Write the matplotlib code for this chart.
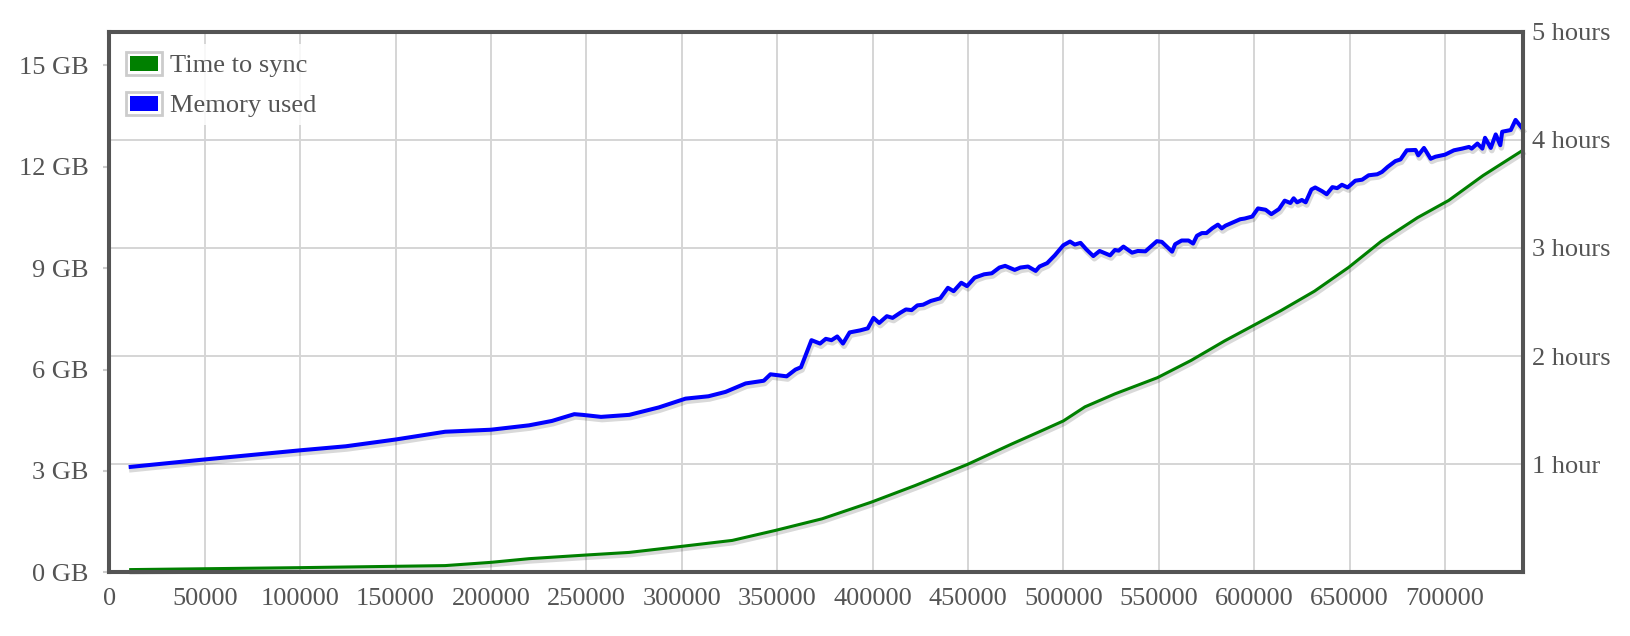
import matplotlib
matplotlib.use("Agg")
import matplotlib.pyplot as plt
from matplotlib import patheffects as pe
from matplotlib.patches import Patch, Rectangle
from matplotlib.legend_handler import HandlerPatch

# memory used (GB) by block height
mem_blocks = [11200, 50000, 100000, 124000, 150000, 176000, 200000, 220000, 232000, 243700,
              248000, 257700, 272500, 288000, 302000, 314000, 323000, 333500, 343000, 346500,
              355000, 359600, 362500, 368000, 372500, 375500, 378500, 381500, 384500, 388000,
              393500, 397500, 400500, 403500, 407500, 410500, 414500, 417500, 420500, 423500,
              426500, 430500, 435500, 439500, 442500, 446500, 449500, 453500, 458500, 462500,
              466500, 469500, 474500, 477500, 481500, 485500, 487500, 491500, 495500, 500000,
              503500, 506000, 509000, 512000, 515700, 519000, 524500, 527000, 529000, 531500,
              536000, 539000, 543000, 549000, 551600, 557000, 558600, 562000, 565600, 568000,
              570000, 572600, 575000, 578000, 581000, 583000, 585000, 589000, 592700, 595000,
              599000, 602000, 606000, 609000, 613000, 616000, 619000, 620700, 622500, 625000,
              627000, 630000, 632000, 635600, 638000, 641000, 643500, 646000, 649000, 653000,
              656600, 660000, 664500, 667000, 670000, 674000, 676700, 680000, 684600, 686000,
              689000, 692500, 695000, 700000, 704700, 709000, 712600, 714000, 717000, 719600,
              721000, 724000, 726600, 729000, 730000, 734500, 737000, 740500]
mem_gb = [3.12, 3.34, 3.61, 3.73, 3.93, 4.16, 4.22, 4.35, 4.48, 4.68,
          4.66, 4.60, 4.66, 4.88, 5.14, 5.21, 5.34, 5.59, 5.67, 5.86,
          5.80, 6.00, 6.07, 6.87, 6.77, 6.91, 6.87, 6.98, 6.77, 7.10,
          7.16, 7.22, 7.53, 7.38, 7.58, 7.53, 7.68, 7.78, 7.76, 7.90,
          7.92, 8.03, 8.11, 8.42, 8.32, 8.57, 8.47, 8.72, 8.82, 8.85,
          9.02, 9.07, 8.95, 9.02, 9.05, 8.92, 9.05, 9.15, 9.38, 9.68,
          9.79, 9.70, 9.75, 9.56, 9.36, 9.51, 9.38, 9.54, 9.52, 9.64,
          9.46, 9.51, 9.50, 9.80, 9.78, 9.49, 9.71, 9.82, 9.82, 9.73,
          9.96, 10.04, 10.04, 10.18, 10.29, 10.18, 10.26, 10.36, 10.45, 10.47,
          10.53, 10.77, 10.73, 10.60, 10.75, 11.00, 10.93, 11.07, 10.95, 11.02,
          10.95, 11.33, 11.39, 11.28, 11.19, 11.40, 11.37, 11.47, 11.39, 11.59,
          11.62, 11.75, 11.78, 11.85, 12.00, 12.17, 12.22, 12.49, 12.50, 12.34,
          12.56, 12.24, 12.30, 12.36, 12.49, 12.54, 12.59, 12.54, 12.69, 12.54,
          12.86, 12.56, 12.96, 12.64, 13.04, 13.09, 13.39, 13.14]

# time to sync (hours) by block height
sync_blocks = [11200, 100000, 176000, 200000, 220000, 250000, 272500, 300000, 326500, 349000,
               373600, 399400, 422400, 449500, 473000, 488700, 500000, 511300, 527000, 549300,
               567000, 584500, 599300, 614000, 631600, 649500, 666500, 685600, 702000, 720000,
               740500]
sync_hours = [0.025, 0.043, 0.062, 0.092, 0.126, 0.160, 0.184, 0.240, 0.295, 0.387,
              0.495, 0.649, 0.803, 0.996, 1.187, 1.31, 1.40, 1.53, 1.65, 1.80,
              1.96, 2.14, 2.28, 2.42, 2.60, 2.82, 3.06, 3.28, 3.44, 3.67,
              3.90]

x_ticks = list(range(0, 700001, 50000))
gb_ticks = [0, 3, 6, 9, 12, 15]
hour_ticks = [1, 2, 3, 4, 5]

txt = '#545454'
plt.rcParams['font.family'] = ['Liberation Serif', 'DejaVu Serif']
plt.rcParams['font.size'] = 19


class SwatchHandler(HandlerPatch):
    # flot style legend box: grey border, white gap, colour inside
    def create_artists(self, legend, orig_handle, xdescent, ydescent, width, height, fontsize, trans):
        outer = Rectangle((-xdescent, -ydescent), width, height, facecolor='white',
                          edgecolor='#cccccc', lw=2.0, transform=trans)
        ins = 0.15 * fontsize
        inner = Rectangle((-xdescent + ins, -ydescent + ins), width - 2 * ins, height - 2 * ins,
                          facecolor=orig_handle.get_facecolor(), edgecolor='none', transform=trans)
        return [outer, inner]


fig = plt.figure(figsize=(16.3, 6.36), dpi=100)
ax = fig.add_axes([109.3 / 1630, 63.7 / 636, 1413.7 / 1630, 540.6 / 636])
ax2 = ax.twinx()

ax.set_xlim(0, 740900)
ax.set_ylim(0, 5)
ax2.set_ylim(0, 16.0)

ax.yaxis.tick_right()
ax2.yaxis.tick_left()

ax.set_xticks(x_ticks)
ax.set_xticklabels([str(v) for v in x_ticks])
ax.set_yticks(hour_ticks)
ax.set_yticklabels(['1 hour' if h == 1 else '%d hours' % h for h in hour_ticks])
ax2.set_yticks(gb_ticks)
ax2.set_yticklabels(['%d GB' % v for v in gb_ticks])

ax.grid(True, color='#d5d5d5', linewidth=1.4)
ax.set_axisbelow(True)
ax.tick_params(axis='x', length=0, pad=11, colors=txt)
ax.tick_params(axis='y', length=0, pad=6.5, colors=txt)
ax2.tick_params(axis='y', length=4, width=1.5, color='#cccccc', pad=11, labelcolor=txt)

for a in (ax, ax2):
    for s in a.spines.values():
        s.set_color('#545454')
        s.set_linewidth(2.9)

shadow = lambda lw: [pe.SimpleLineShadow(offset=(0.8, -2.0), shadow_color='k', alpha=0.15,
                                         linewidth=lw + 1.0), pe.Normal()]
ax.plot(sync_blocks, sync_hours, color='#008000', lw=2.2, path_effects=shadow(2.2),
        solid_joinstyle='round', clip_on=False)
ax2.plot(mem_blocks, mem_gb, color='#0000ff', lw=2.9, path_effects=shadow(2.9),
         solid_joinstyle='round', clip_on=False)

handles = [Patch(facecolor='#008000'), Patch(facecolor='#0000ff')]
leg = ax2.legend(handles, ['Time to sync', 'Memory used'], loc='upper left',
                 bbox_to_anchor=(0.0062, 0.9772), borderaxespad=0, borderpad=0.3,
                 handlelength=1.35, handleheight=0.95, handletextpad=0.3,
                 labelspacing=0.545, frameon=True, fancybox=False,
                 facecolor='white', edgecolor='none', framealpha=0.85,
                 handler_map={Patch: SwatchHandler()})
for t in leg.get_texts():
    t.set_color(txt)

fig.savefig('out.png', dpi=100)
